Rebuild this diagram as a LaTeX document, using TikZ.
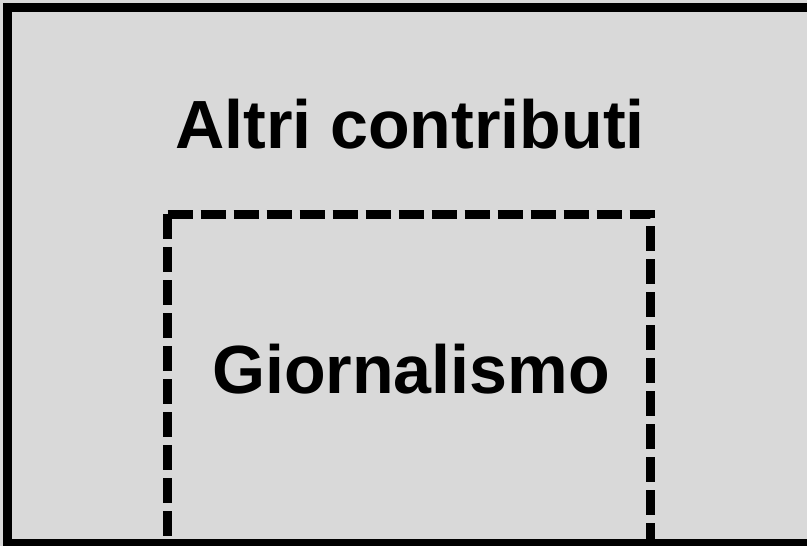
\documentclass[tikz,border=0pt]{standalone}
\usepackage{fontspec}
\setmainfont{Liberation Sans}
\usepackage{xcolor}
\usepackage{tikz}

\definecolor{panelgray}{HTML}{D9D9D9}

\tikzset{
  label text/.style={font=\fontsize{68.2}{70}\selectfont\bfseries, anchor=base, inner sep=0pt},
  outer frame/.style={draw=black, line width=9pt, fill=panelgray},
  inner frame/.style={draw=black, line width=9pt, dash pattern=on 25pt off 8pt}
}

\begin{document}
\begin{tikzpicture}[x=1pt, y=-1pt]
    % canvas
    \useasboundingbox[fill=panelgray] (0, 0) rectangle (807, 546);

    % outer box, cut off at right and bottom
    \begin{scope}
      \clip (0, 0) rectangle (807, 546);
      \draw[outer frame] (7.5, 543.5) -- (7.5, 7.5) -- (815, 7.5) --
      (815, 543.5) -- cycle;

      % inner dashed box
      \draw[inner frame] (167.5, 214) -- (167.5, 543.5);
      \draw[inner frame] (167.5, 214) -- (650.5, 214) -- (650.5, 543.5);
    \end{scope}

    % labels
    \node[label text] (altri) at (410, 148) {Altri contributi};
    \node[label text] (giorn) at (411, 393) {Giornalismo};
\end{tikzpicture}
\end{document}
